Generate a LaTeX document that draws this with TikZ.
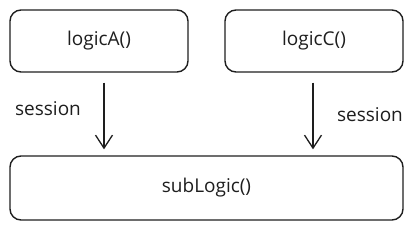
\documentclass[tikz,border=0pt]{standalone}
\usepackage{fontspec}
\setmainfont{Open Sans}
\usetikzlibrary{arrows.meta}
\definecolor{ink}{HTML}{1E1E1E}
\tikzset{
  fnbox/.style={draw=ink, line width=1.4pt, rounded corners=11pt, font=\fontsize{19}{22}\selectfont, text=ink},
  flow/.style={draw=ink, line width=1.3pt, -{Straight Barb[length=13pt,width=17pt,line width=1.3pt]}},
  lbl/.style={font=\fontsize{19}{22}\selectfont, text=ink}
}
\begin{document}
\begin{tikzpicture}[x=1pt, y=-1pt]
      \useasboundingbox (0,0) rectangle (416,230);
      \node[fnbox, minimum width=178pt, minimum height=62pt] (logicA) at (99,41) {logicA()};
      \node[fnbox, minimum width=178pt, minimum height=62pt] (logicC) at (314,41) {logicC()};
      \node[fnbox, minimum width=393pt, minimum height=64pt] (subLogic) at (206.5,188) {subLogic()};
      \coordinate (outA) at ([xshift=5pt]logicA.south);
      \coordinate (outC) at ([xshift=-1pt]logicC.south);
      \draw[flow, shorten <=10pt, shorten >=6pt] (outA) -- (outA |- subLogic.north);
      \draw[flow, shorten <=10pt, shorten >=6pt] (outC) -- (outC |- subLogic.north);
      \node[lbl] (sessA) at (48,109) {session};
      \node[lbl] (sessC) at (370,115) {session};
    \end{tikzpicture}
\end{document}
